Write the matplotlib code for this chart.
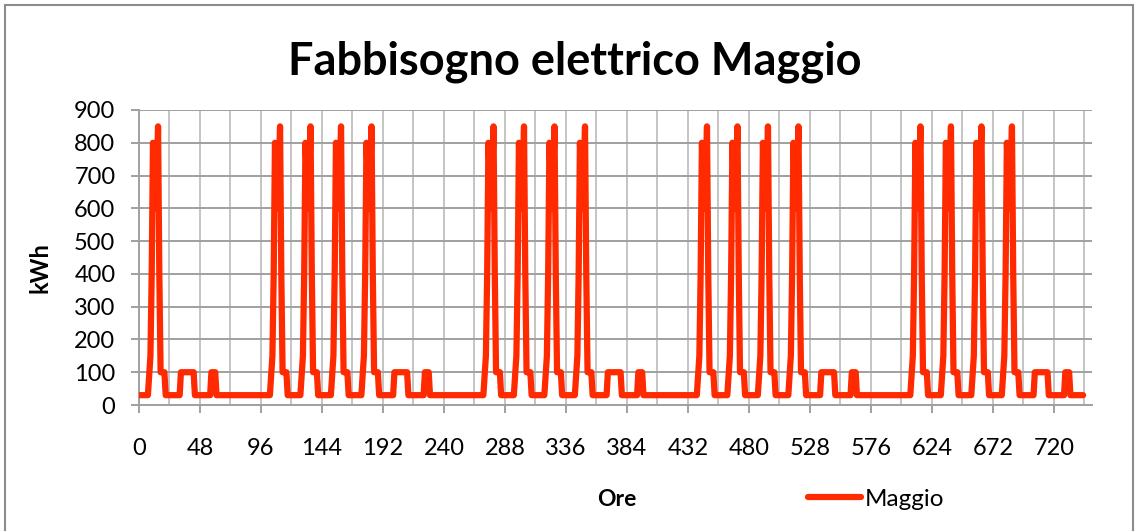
import matplotlib
matplotlib.use("Agg")
import matplotlib.pyplot as plt
from matplotlib.patches import Rectangle

plt.rcParams['font.family'] = ['Lato', 'DejaVu Sans']

# hourly profiles (kWh), one value per hour of the day
weekday = [30, 30, 30, 30, 30, 30, 30, 30, 90, 150, 400, 800,
           700, 600, 700, 850, 400, 100, 100, 100, 100, 30, 30, 30]
saturday = [30, 30, 30, 30, 30, 30, 30, 30, 30, 100, 100, 100,
            100, 100, 100, 100, 100, 100, 100, 100, 30, 30, 30, 30]
sunday = [30, 30, 30, 30, 30, 30, 30, 30, 30, 100, 100, 100,
          100, 30, 30, 30, 30, 30, 30, 30, 30, 30, 30, 30]
holiday = [30] * 24

# day sequence for the 31 days of May
days = ['W', 'S', 'D', 'H',
        'W', 'W', 'W', 'W', 'S', 'D', 'H',
        'W', 'W', 'W', 'W', 'S', 'D', 'H',
        'W', 'W', 'W', 'W', 'S', 'D', 'H',
        'W', 'W', 'W', 'W', 'S', 'D']
profiles = {'W': weekday, 'S': saturday, 'D': sunday, 'H': holiday}

maggio = []
for d in days:
    maggio += profiles[d]
ore = list(range(len(maggio)))

fig = plt.figure(figsize=(11.36, 5.31), dpi=100)
ax = fig.add_axes([139/1136, 1 - 405/531, (1092 - 139)/1136, (405 - 110)/531])

ax.plot(ore, maggio, color='#ff2a00', lw=4.5, solid_joinstyle='round',
        solid_capstyle='round', label='Maggio', zorder=3)

ax.set_xlim(0, 750)
ax.set_ylim(0, 900)
ax.set_xticks(range(0, 721, 48))
ax.set_xticks(range(0, 745, 24), minor=True)
ax.set_yticks(range(0, 901, 100))

ax.grid(axis='y', which='major', color='#a0a0a0', lw=1.4, zorder=1)
ax.grid(axis='x', which='both', color='#c4c4c4', lw=1.4, zorder=1)

for s in ['top', 'right']:
    ax.spines[s].set_visible(False)
for s in ['left', 'bottom']:
    ax.spines[s].set_color('#a0a0a0')
    ax.spines[s].set_linewidth(1.4)

ax.tick_params(axis='both', which='major', length=6, width=1.4, color='#a0a0a0',
               labelsize=17, labelcolor='black')
ax.tick_params(axis='y', pad=11)
ax.tick_params(axis='x', pad=18)
ax.tick_params(axis='x', which='minor', length=0)

fig.text(575/1136, 1 - 62/531, 'Fabbisogno elettrico Maggio', ha='center', va='center',
         fontsize=32.5, fontweight='bold')
fig.text(40/1136, 1 - 268/531, 'kWh', ha='center', va='center', rotation=90,
         fontsize=17, fontweight='bold')
fig.text(617/1136, 1 - 499/531, 'Ore', ha='center', va='center',
         fontsize=16.5, fontweight='bold')

fig.legend(loc='center left', bbox_to_anchor=(798/1136, 1 - 499/531), frameon=False,
           fontsize=17.5, handlelength=2.2, handletextpad=0.15, borderaxespad=0)

fig.patches.append(Rectangle((5/1136, -0.1), 1128/1136, 1.1 - 5/531, transform=fig.transFigure,
                             fill=False, edgecolor='#8c8c8c', lw=1.5))

fig.savefig('out.png', dpi=100)
